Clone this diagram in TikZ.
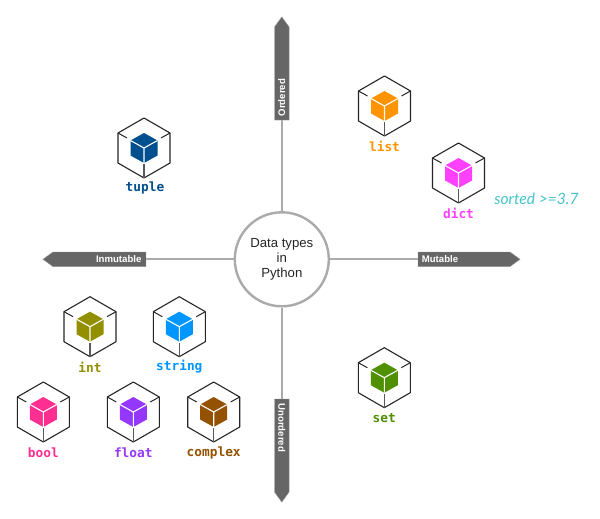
\documentclass[tikz,border=0pt]{standalone}
\usepackage{fontspec}
\setmainfont{Liberation Sans}
\newfontfamily\monob{DejaVu Sans Mono Bold}
\newfontfamily\handf{Lato Italic}
\usetikzlibrary{shapes.symbols}
\definecolor{cList}{HTML}{FF9300}
\definecolor{cDict}{HTML}{FF40FF}
\definecolor{cTuple}{HTML}{004F8E}
\definecolor{cInt}{HTML}{929000}
\definecolor{cString}{HTML}{0096FF}
\definecolor{cBool}{HTML}{FF2F92}
\definecolor{cFloat}{HTML}{9437FF}
\definecolor{cComplex}{HTML}{945200}
\definecolor{cSet}{HTML}{4F8F00}
\definecolor{cSorted}{HTML}{45C4CC}
\definecolor{cBanner}{HTML}{666666}
\definecolor{cLine}{HTML}{AAAAAA}
\tikzset{
  x=1pt,y=-1pt,
  hub/.style={circle,draw=cLine,line width=2.4pt,fill=white,minimum size=94pt,inner sep=0pt,align=center,font=\fontsize{13.2}{14.8}\selectfont,text=black!85},
  link/.style={draw=cLine,line width=2.2pt},
  banner/.style={signal,signal from=nowhere,signal pointer angle=72,fill=cBanner,draw=cBanner!70,line width=.4pt,inner sep=0pt},
  bannertext/.style={text=white,font=\fontsize{9.6}{11}\bfseries\selectfont,inner sep=0pt},
  typelabel/.style={font=\fontsize{12.8}{14}\monob\selectfont,inner sep=0pt,anchor=center},
  pics/cube/.style={code={
    \draw[black!85,line width=1.1pt,line join=round] (0,-30)--(26,-15)--(26,15)--(0,30)--(-26,15)--(-26,-15)--cycle;
    \draw[black!85,line width=1pt] (-26,-15)--(-17,-10) (26,-15)--(17,-10);
    \draw[black!65,line width=1.2pt] (0,30)--(0,16);
    \fill[#1] (0,-15)--(13.5,-7.5)--(13.5,7.5)--(0,15)--(-13.5,7.5)--(-13.5,-7.5)--cycle;
    \draw[white,line width=1.1pt] (-13.5,-7.5)--(0,0)--(13.5,-7.5) (0,0)--(0,15);
  }}
}
\begin{document}
\begin{tikzpicture}
\useasboundingbox[fill=white] (0,0) rectangle (600,519);
\node[hub] (center) at (281.8,259.3) {\raisebox{-2pt}{Data types}\\\raisebox{-2pt}{in}\\\raisebox{-2pt}{Python}};
\node[banner,signal to=north,minimum width=14.6pt,minimum height=93pt] (ordered) at (281.8,73.5) {};
\node[banner,signal to=south,minimum width=14.6pt,minimum height=93pt] (unordered) at (281.8,445.5) {};
\node[banner,signal to=west,minimum height=14.6pt,minimum width=103pt] (inmutable) at (99.5,259.3) {};
\node[banner,signal to=east,minimum height=14.6pt,minimum width=102pt] (mutable) at (464,259.3) {};
\draw[link] (center) -- (ordered);
\draw[link] (center) -- (unordered);
\draw[link] (center) -- (inmutable);
\draw[link] (center) -- (mutable);
\node[bannertext,rotate=90] (orderedt) at (281.8,97.7) {Ordered};
\node[bannertext,rotate=-90] (unorderedt) at (281.8,427.7) {Unordered};
\node[bannertext] (inmutablet) at (118.7,259.3) {Inmutable};
\node[bannertext] (mutablet) at (440,259.3) {Mutable};
\pic (tuple) at (144,148) {cube=cTuple};
\pic (list) at (384.5,106) {cube=cList};
\pic (dict) at (458.5,173) {cube=cDict};
\pic (int) at (90,326.7) {cube=cInt};
\pic (string) at (179.3,326.7) {cube=cString};
\pic (bool) at (43.3,412) {cube=cBool};
\pic (float) at (133.3,412) {cube=cFloat};
\pic (complex) at (213.7,412) {cube=cComplex};
\pic (set) at (384.3,377.7) {cube=cSet};
\node[typelabel,text=cTuple] (tuplel) at (145,187.5) {tuple};
\node[typelabel,text=cList] (listl) at (384.5,146) {list};
\node[typelabel,text=cDict] (dictl) at (458.5,213.5) {dict};
\node[typelabel,text=cInt] (intl) at (90,367) {int};
\node[typelabel,text=cString] (stringl) at (179.3,367) {string};
\node[typelabel,text=cBool] (booll) at (43.3,452.5) {bool};
\node[typelabel,text=cFloat] (floatl) at (133.3,452.5) {float};
\node[typelabel,text=cComplex] (complexl) at (213.7,452.5) {complex};
\node[typelabel,text=cSet] (setl) at (384.3,418) {set};
\node[inner sep=0pt,text=cSorted,font=\fontsize{15.6}{17}\handf\selectfont] (sorted) at (536.5,198.5) {sorted >=3.7};
\end{tikzpicture}
\end{document}
